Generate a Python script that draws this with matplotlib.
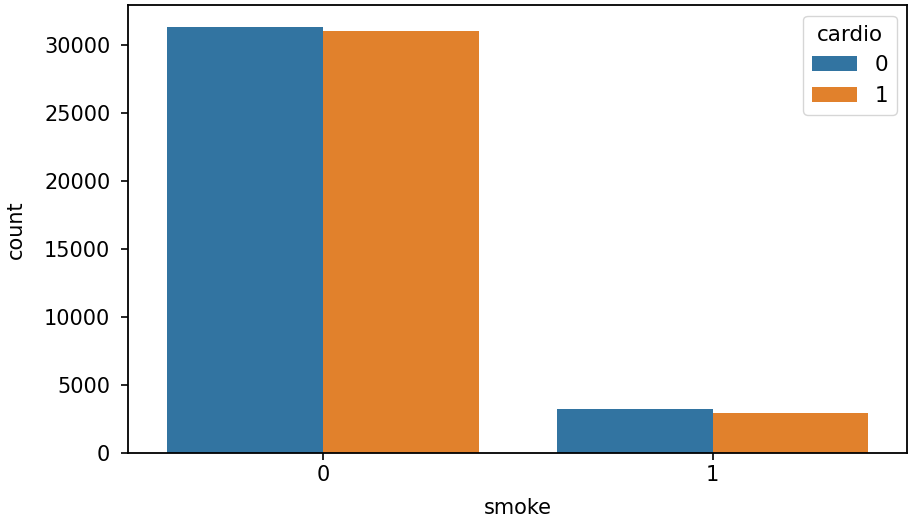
import numpy as np
import pandas as pd
import matplotlib
matplotlib.use("Agg")
import matplotlib.pyplot as plt
import seaborn as sns

smoke = ["0", "0", "1", "1"]
cardio = ["0", "1", "0", "1"]
counts = [31380, 31085, 3246, 2951]

df = pd.DataFrame({"smoke": smoke, "cardio": cardio, "count": counts})

plt.rcParams['font.size'] = 15
fig, ax = plt.subplots(figsize=(9.1, 5.2), dpi=100)
sns.barplot(data=df, x="smoke", y="count", hue="cardio", ax=ax,
            palette=["#3274a1", "#e1812c"], saturation=1)
ax.legend(title="cardio", loc="upper right", fontsize=15.5, title_fontsize=15.5,
          handlelength=2.1)
ax.set_xlabel("smoke", labelpad=9)
ax.set_ylabel("count", labelpad=13)
ax.tick_params(length=5, width=1.2)
ax.tick_params(axis="y", pad=8)
for s in ax.spines.values():
    s.set_linewidth(1.3)
fig.subplots_adjust(left=0.141, right=0.997, top=0.99, bottom=0.128)
fig.savefig("out.png")
